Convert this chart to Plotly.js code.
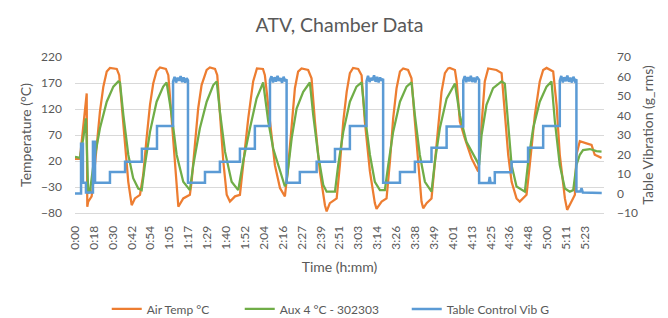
<!DOCTYPE html>
<html>
<head>
<meta charset="utf-8">
<script src="https://cdn.plot.ly/plotly-3.0.1.min.js"></script>
<style>html,body{margin:0;padding:0;background:#fff;}#chart{width:668px;height:318px;}</style>
</head>
<body>
<div id="chart"></div>
<script>
// Category tick labels (time h:mm), one per label slot
const timeLabels = ["0:00","0:18","0:30","0:42","0:54","1:05","1:17","1:29","1:40","1:52","2:04","2:16","2:27","2:39","2:51","3:03","3:14","3:26","3:38","3:49","4:01","4:13","4:25","4:36","4:48","5:00","5:11","5:23"];

// Air Temp °C (position in label slots, value °C)
const airX = [0,0.26,0.62,0.65,0.70,0.88,0.97,1.15,1.32,1.50,1.68,1.85,2.21,2.34,2.47,2.65,2.82,3.00,3.17,3.44,
  3.61,3.79,3.97,4.14,4.32,4.50,4.81,4.94,5.12,5.29,5.47,5.73,6.08,
  6.17,6.35,6.52,6.70,6.97,7.14,7.41,7.53,7.67,7.85,8.03,8.20,8.47,8.73,
  8.90,9.17,9.43,9.63,9.95,10.05,10.32,10.58,10.85,11.11,
  11.29,11.47,11.64,11.81,11.99,12.34,12.52,12.70,12.96,13.23,13.32,13.49,13.85,
  14.02,14.20,14.38,14.55,14.72,14.99,15.17,15.34,15.61,15.87,15.96,16.23,16.49,
  16.67,16.84,17.02,17.20,17.37,17.63,17.81,17.99,18.16,18.34,18.43,18.61,18.87,
  19.05,19.22,19.40,19.58,19.75,19.84,20.11,20.20,20.37,20.63,20.99,21.34,
  21.52,21.69,21.87,22.31,22.58,22.75,22.93,23.11,23.37,23.54,23.90,
  24.07,24.34,24.60,24.78,24.96,25.31,25.49,25.66,25.93,26.05,26.28,26.46,
  26.54,26.72,27.07,27.34,27.51,27.87];
const airY = [24,24,150,-68,-58,-48,-20,51,115,163,192,199,197,185,128,44,-20,-65,-52,-45,
  -7,64,128,169,193,200,197,185,96,12,-68,-52,-45,
  -20,57,121,166,195,200,197,185,108,19,-45,-58,-48,-45,
  12,102,173,198,197,185,96,12,-32,-48,
  12,96,160,192,198,195,179,96,0,-65,-77,-61,-52,
  12,96,153,189,199,197,185,96,0,-61,-72,-58,-52,
  19,102,160,192,198,195,179,96,12,-58,-71,-61,-52,
  19,96,153,189,198,199,195,173,96,64,25,0,
  96,173,198,195,189,115,32,-20,-52,-58,-45,
  12,108,173,195,199,192,128,32,-52,-74,-58,-45,
  32,58,54,51,32,26];

// Aux 4 °C - 302303
const auxX = [0,0.26,0.44,0.58,0.70,0.79,0.97,1.32,1.68,2.03,2.29,2.38,2.56,2.82,3.08,3.35,3.53,
  3.70,3.97,4.32,4.67,4.85,5.12,5.38,5.73,6.08,
  6.26,6.61,6.97,7.32,7.50,7.67,7.94,8.29,8.64,
  8.90,9.26,9.61,9.96,10.23,10.49,10.85,11.11,
  11.20,11.47,11.73,12.08,12.43,12.61,12.87,13.14,13.32,13.76,
  13.93,14.20,14.55,14.90,15.17,15.34,15.61,15.87,16.14,16.40,
  16.58,16.84,17.20,17.55,17.81,17.99,18.25,18.52,18.87,
  19.05,19.31,19.67,20.11,20.37,20.72,21.07,21.39,
  21.52,21.78,22.13,22.58,22.75,22.93,23.11,23.37,23.81,
  23.99,24.25,24.60,24.96,25.22,25.40,25.66,25.93,26.19,26.37,
  26.54,26.72,26.89,27.25,27.60,27.87];
const auxY = [28,26,64,102,-42,-39,12,83,134,163,173,171,108,32,-13,-33,-36,
  12,76,134,163,171,108,32,-20,-36,
  12,83,134,166,173,115,38,-20,-36,
  19,83,140,171,96,44,0,-29,
  -20,64,121,153,171,108,32,-26,-39,-39,
  12,76,134,163,171,108,32,-20,-36,-36,
  12,76,134,163,171,108,32,-20,-39,
  19,83,140,169,108,57,32,12,
  70,128,160,173,169,96,12,-29,-39,
  19,83,134,163,173,96,12,-33,-39,-36,
  12,32,41,43,39,38];

// Table Control Vib G (right axis, g_rms)
const vibX = [0,0.32,0.32,0.42,0.42,0.58,0.58,0.95,0.95,1.06,1.06,1.85,1.85,2.65,2.65,3.54,3.54,4.34,4.34,5.19,
  5.19,5.27,5.35,5.43,5.51,5.59,5.67,5.75,5.83,5.91,5.98,
  5.98,6.88,6.88,7.67,7.67,8.73,8.73,9.52,9.52,10.32,
  10.32,10.40,10.48,10.56,10.64,10.72,10.80,10.88,10.96,11.04,11.12,11.20,
  11.20,11.90,11.90,12.79,12.79,13.76,13.76,14.55,14.55,15.43,
  15.43,15.51,15.59,15.67,15.75,15.83,15.91,15.99,16.07,16.15,16.23,16.31,
  16.31,17.20,17.20,17.99,17.99,18.87,18.87,19.67,19.67,20.55,
  20.55,20.63,20.71,20.79,20.87,20.95,21.03,21.11,21.19,21.27,21.39,
  21.39,21.90,21.95,22.00,22.22,22.22,23.11,23.11,23.98,23.98,24.78,24.78,25.66,
  25.66,25.74,25.82,25.90,25.98,26.06,26.14,26.22,26.30,26.38,26.46,26.54,
  26.54,26.75,26.81,26.88,27.88];
const vibY = [0,0,25.5,25.5,5.5,5.5,0.5,0.5,26.5,26.5,5.5,5.5,11,11,16.3,16.3,23,23,34.6,34.6,
  57.5,59.8,56.9,59.4,57.8,60.2,57.1,59.5,56.9,59.1,58.0,
  5.5,5.5,11,11,16.3,16.3,23,23,34.6,34.6,
  58.2,60.1,57.0,59.6,57.4,60.3,57.8,59.2,56.8,59.9,57.5,58.6,
  5.5,5.5,11,11,16.3,16.3,22.8,22.8,34.6,34.6,
  57.6,60.4,57.2,59.3,58.0,60.6,57.3,59.8,57.0,59.5,57.8,58.9,
  5.5,5.5,11,11,16.3,16.3,23.5,23.5,34.4,34.4,
  58.0,60.2,57.1,59.7,57.5,60.4,57.2,59.4,57.0,59.8,58.3,
  5.4,5.4,8.5,5.4,5.4,10.9,10.9,16.3,16.3,23.5,23.5,34.6,34.6,
  57.8,60.3,57.0,59.6,57.6,60.5,57.3,59.4,56.9,59.9,57.7,58.6,
  1,1,2.7,0.5,0.2];

const tempTicks = [-80,-30,20,70,120,170,220];
const vibTicks = [-10,0,10,20,30,40,50,60,70];

const FONT = 'Lato, "Open Sans", sans-serif';
const GREY = '#595959';

const traces = [
  {x: airX, y: airY, name: 'Air Temp °C', type: 'scatter', mode: 'lines', legendwidth: 88,
   line: {color: '#ED7D31', width: 2.25}, yaxis: 'y'},
  {x: auxX, y: auxY, name: 'Aux 4 °C - 302303', type: 'scatter', mode: 'lines', legendwidth: 122,
   line: {color: '#70AD47', width: 2.25}, yaxis: 'y'},
  {x: vibX, y: vibY, name: 'Table Control Vib G', type: 'scatter', mode: 'lines',
   line: {color: '#5B9BD5', width: 2.5}, yaxis: 'y2'}
];

const layout = {
  width: 668, height: 318,
  paper_bgcolor: '#fff', plot_bgcolor: '#fff',
  margin: {l: 75, r: 64, t: 57, b: 105, autoexpand: false},
  font: {family: FONT, color: GREY, size: 12},
  title: {text: 'ATV, Chamber Data', font: {family: FONT, size: 19.5, color: GREY},
          x: 0.5, xanchor: 'center', y: 0.921, yanchor: 'middle', xref: 'paper'},
  showlegend: true,
  legend: {orientation: 'h', x: 0.06, xanchor: 'left', y: -0.615, yanchor: 'middle',
           font: {family: FONT, size: 12, color: GREY}, bgcolor: 'rgba(0,0,0,0)'},
  xaxis: {
    range: [0, 28], tickmode: 'array', tickvals: timeLabels.map((_, i) => i), ticktext: timeLabels,
    tickangle: -90, showgrid: false, zeroline: false, showline: true, linecolor: '#D9D9D9', linewidth: 1,
    ticks: '', tickfont: {family: FONT, size: 12, color: GREY}, ticklabelstandoff: 7,
    title: {text: 'Time (h:mm)', font: {family: FONT, size: 14, color: GREY}, standoff: 13}
  },
  yaxis: {
    range: [-80, 220], tickmode: 'array', tickvals: tempTicks, showgrid: true, gridcolor: '#D9D9D9',
    gridwidth: 1, zeroline: false, showline: false, ticks: '', ticklabelstandoff: 12,
    tickfont: {family: FONT, size: 12, color: GREY},
    title: {text: 'Temperature (°C)', font: {family: FONT, size: 14, color: GREY}, standoff: 6}
  },
  yaxis2: {
    range: [-10, 70], tickmode: 'array', tickvals: vibTicks, overlaying: 'y', side: 'right',
    showgrid: false, zeroline: false, showline: false, ticks: '', ticklabelstandoff: 12,
    tickfont: {family: FONT, size: 12, color: GREY},
    title: {text: 'Table Vibration (g_rms)', font: {family: FONT, size: 14, color: GREY}, standoff: 6}
  }
};

Plotly.newPlot('chart', traces, layout, {displayModeBar: false, staticPlot: true});
</script>
</body>
</html>
